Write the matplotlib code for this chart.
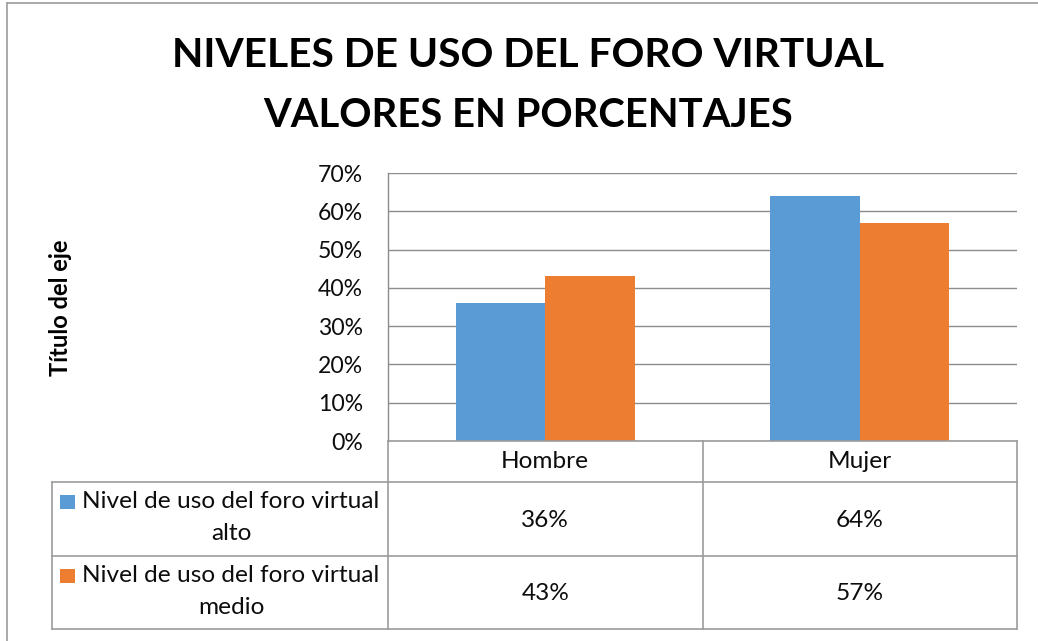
import matplotlib
matplotlib.use("Agg")
import matplotlib.pyplot as plt
from matplotlib.patches import Rectangle
from matplotlib.lines import Line2D
from matplotlib.transforms import blended_transform_factory
import numpy as np

# ---- data ----
categories = ["Hombre", "Mujer"]
series_names = ["Nivel de uso del foro virtual\nalto",
                "Nivel de uso del foro virtual\nmedio"]
alto = [36, 64]
medio = [43, 57]
yticks = [0, 10, 20, 30, 40, 50, 60, 70]
title_lines = ["NIVELES DE USO DEL FORO VIRTUAL", "VALORES EN PORCENTAJES"]
axis_title = "Título del eje"

colors = ["#5B9BD5", "#ED7D31"]
grid_c = "#8C8C8C"
border_c = "#9C9C9C"
txt_c = "#0d0d0d"
plt.rcParams['font.family'] = ["Lato", "DejaVu Sans"]

W, H = 1038, 641
fig = plt.figure(figsize=(W / 100, H / 100), dpi=100)

def fx(px):
    return px / W

def fy(py):
    return 1 - py / H

L, R, T, B = 388, 1017, 173, 441
ax = fig.add_axes([fx(L), fy(B), fx(R - L), (B - T) / H])

x = np.arange(len(categories))
bw = 0.285
series = [alto, medio]
for i, (vals, c) in enumerate(zip(series, colors)):
    ax.bar(x + (i - 0.5) * bw, vals, width=bw, color=c, zorder=3)

ax.set_xlim(-0.5, len(categories) - 0.5)
ax.set_ylim(0, 70)
ax.set_yticks(yticks)
ax.set_yticklabels([f"{v}%" for v in yticks])
ax.set_xticks([])
ax.tick_params(axis='y', length=0, pad=18, labelsize=18.5, labelcolor=txt_c)
ax.grid(axis='y', color=grid_c, lw=1.0, zorder=0)
for s in ["top", "right", "bottom"]:
    ax.spines[s].set_visible(False)
ax.spines["left"].set_color(grid_c)
ax.spines["left"].set_linewidth(1.0)

# ---- data table below the axes ----
tr = blended_transform_factory(ax.transData, ax.transAxes)
axh = B - T
def ya(py):
    return -(py - B) / axh

px_per_unit = (R - L) / len(categories)
x_left = -0.5 + (52 - L) / px_per_unit
x_end = len(categories) - 0.5
rows_y = [ya(441), ya(482), ya(556), ya(629)]

def hline(x0, x1, y):
    ax.add_line(Line2D([x0, x1], [y, y], transform=tr, color=border_c, lw=1.2, clip_on=False, zorder=5))

def vline(xv, y0, y1):
    ax.add_line(Line2D([xv, xv], [y0, y1], transform=tr, color=border_c, lw=1.2, clip_on=False, zorder=5))

hline(-0.5, x_end, rows_y[0])
hline(x_left, x_end, rows_y[1])
hline(x_left, x_end, rows_y[2])
hline(x_left, x_end, rows_y[3])
vline(-0.5, rows_y[0], rows_y[3])
vline(x_left, rows_y[1], rows_y[3])
for k in range(1, len(categories) + 1):
    vline(k - 0.5, rows_y[0], rows_y[3])

tfs = 19
table_texts = []
for k, cat in enumerate(categories):
    table_texts.append(ax.text(k, ya(462), cat, transform=tr, ha='center', va='center',
                               fontsize=tfs, color=txt_c))
row_centers = [(ya(482) + ya(556)) / 2, (ya(556) + ya(629)) / 2]
for r, vals in enumerate(series):
    for k, v in enumerate(vals):
        table_texts.append(ax.text(k, row_centers[r] - 0.004, f"{v}%", transform=tr,
                                   ha='center', va='center', fontsize=tfs, color=txt_c))

label_objs = []
for r, name in enumerate(series_names):
    l1, l2 = name.split("\n")
    top = [482, 556][r]
    t1 = ax.text(-1.0, ya(top + 20), l1, transform=tr, ha='center', va='center',
                 fontsize=tfs, color=txt_c)
    t2 = ax.text(-1.0, ya(top + 51), l2, transform=tr, ha='center', va='center',
                 fontsize=tfs, color=txt_c)
    label_objs.append((t1, t2, top))
    table_texts += [t1, t2]

# titles
t_a = fig.text(fx(528), fy(67), title_lines[0], ha='center', va='baseline',
               fontsize=34, fontweight='bold', color="#000000")
t_b = fig.text(fx(528), fy(127), title_lines[1], ha='center', va='baseline',
               fontsize=34, fontweight='bold', color="#000000")
t_y = fig.text(fx(60), fy(308), axis_title, rotation=90, ha='center', va='center',
               fontsize=17, fontweight='bold', color="#000000")

# fit widths to reference
fig.canvas.draw()
rr = fig.canvas.get_renderer()
def fit(t, target, horiz=True):
    bb = t.get_window_extent(rr)
    w = bb.width if horiz else bb.height
    return t.get_fontsize() * target / w
t_a.set_fontsize(fit(t_a, 713))
t_b.set_fontsize(fit(t_b, 530))
t_y.set_fontsize(fit(t_y, 137, horiz=False))
new_tfs = fit(label_objs[0][0], 297)
for t in table_texts:
    t.set_fontsize(new_tfs)
tick70 = ax.get_yticklabels()[-1]
ax.tick_params(axis='y', labelsize=fit(tick70, 45))

fig.canvas.draw()
for idx, (t1, t2, top) in enumerate(label_objs):
    w = t1.get_window_extent(rr).width
    total = 15 + 7 + w
    cell_c_px = (52 + L) / 2
    sq_left_px = cell_c_px - total / 2
    text_c_px = sq_left_px + 22 + w / 2
    xc = -0.5 + (text_c_px - L) / px_per_unit
    t1.set_x(xc)
    t2.set_x(xc)
    ax.add_patch(Rectangle((-0.5 + (sq_left_px - L) / px_per_unit, ya(top + 27)),
                           15 / px_per_unit, 14 / axh, transform=tr,
                           facecolor=colors[idx], edgecolor='none', clip_on=False, zorder=6))

# outer chart border
fig.add_artist(Line2D([fx(7), 1.0], [fy(2.5), fy(2.5)], color=border_c, lw=1.2))
fig.add_artist(Line2D([fx(7), fx(7)], [fy(2.5), 0], color=border_c, lw=1.2))

fig.savefig("out.png", dpi=100)
